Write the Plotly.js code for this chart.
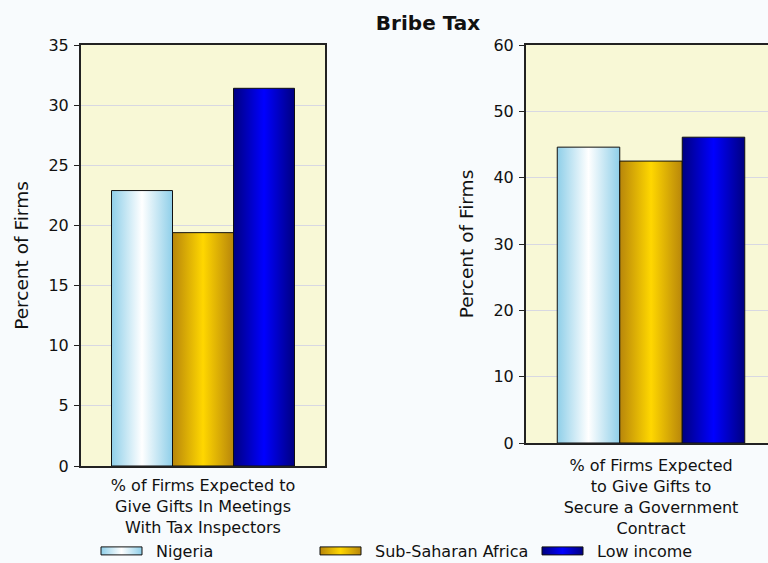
<!DOCTYPE html>
<html><head><meta charset="utf-8">
<script src="https://cdn.plot.ly/plotly-3.0.1.min.js"></script>
<style>html,body{margin:0;padding:0;overflow:hidden;background:#f8fbfd}</style>
</head><body><div id="chart"></div>
<script>
// ---- data ----
const seriesNames = ['Nigeria', 'Sub-Saharan Africa', 'Low income'];
const categoryLeft = ['% of Firms Expected to<br>Give Gifts In Meetings<br>With Tax Inspectors'];
const categoryRight = ['% of Firms Expected<br>to Give Gifts to<br>Secure a Government<br>Contract'];
const valuesLeft = [22.9, 19.4, 31.4];
const valuesRight = [44.6, 42.5, 46.1];
const yTicksLeft = [0, 5, 10, 15, 20, 25, 30, 35];
const yTicksRight = [0, 10, 20, 30, 40, 50, 60];
const chartTitle = 'Bribe Tax';
const yTitle = 'Percent of Firms';

// ---- styles ----
const W = 790, H = 563;
const solid = ['#bfe3f3', '#e6b800', '#0000c8'];
const grads = [
  ['#8fcfe9', '#ffffff', '#8fcfe9'],
  ['#b8860b', '#ffd700', '#b8860b'],
  ['#000080', '#0000ff', '#000080']
];
const legendNames = ['legend', 'legend2', 'legend3'];
const legendX = [96, 315, 537];
const font = 'DejaVu Sans, Verdana, sans-serif';

const traces = [];
seriesNames.forEach((name, i) => {
  traces.push({
    type: 'bar', name: name, x: categoryLeft, y: [valuesLeft[i]],
    xaxis: 'x', yaxis: 'y', legend: legendNames[i], showlegend: true,
    marker: {color: solid[i], line: {color: '#111', width: 1}},
    hoverinfo: 'y'
  });
});
seriesNames.forEach((name, i) => {
  traces.push({
    type: 'bar', name: name, x: categoryRight, y: [valuesRight[i]],
    xaxis: 'x2', yaxis: 'y2', legend: legendNames[i], showlegend: false,
    marker: {color: solid[i], line: {color: '#111', width: 1}},
    hoverinfo: 'y'
  });
});

const axisCommon = {
  showline: true, linecolor: '#222', linewidth: 2, mirror: true, automargin: false
};
const xCommon = Object.assign({}, axisCommon, {
  ticks: 'outside', tickcolor: 'rgba(0,0,0,0)', showgrid: false,
  tickfont: {family: font, size: 16, color: '#111'}
});
const yCommon = Object.assign({}, axisCommon, {
  ticks: 'outside', ticklen: 5, tickcolor: '#222', tickwidth: 1, ticklabelstandoff: 2,
  tickfont: {family: font, size: 16, color: '#111'},
  showgrid: true, gridcolor: '#d8d8e2', gridwidth: 1, zeroline: false,
  title: {text: yTitle, font: {family: font, size: 18.5, color: '#111'}, standoff: 15}
});

const legendBase = {
  orientation: 'h', xref: 'container', yref: 'container', xanchor: 'left', yanchor: 'middle',
  y: 1 - 551 / H, bgcolor: 'rgba(0,0,0,0)', borderwidth: 0,
  font: {family: font, size: 16, color: '#111'}, itemwidth: 50
};

const layout = {
  width: W, height: H,
  margin: {l: 0, r: 0, t: 0, b: 0, autoexpand: false},
  paper_bgcolor: '#f8fbfd', plot_bgcolor: '#f8f8d6',
  barmode: 'group', bargap: 0.25, bargroupgap: 0,
  title: {text: '<b>' + chartTitle + '</b>', font: {family: font, size: 20, color: '#111'},
          xref: 'container', yref: 'container', x: 428 / W, xanchor: 'center', y: 1 - 23 / H, yanchor: 'middle'},
  xaxis: Object.assign({}, xCommon, {domain: [81 / W, 325 / W], anchor: 'y', ticklen: 4}),
  yaxis: Object.assign({}, yCommon, {domain: [(H - 466) / H, (H - 45) / H], anchor: 'x', range: [0, 35], tickvals: yTicksLeft}),
  xaxis2: Object.assign({}, xCommon, {domain: [526 / W, 776 / W], anchor: 'y2', ticklen: 7}),
  yaxis2: Object.assign({}, yCommon, {domain: [(H - 443) / H, (H - 45) / H], anchor: 'x2', range: [0, 60], tickvals: yTicksRight}),
  showlegend: true
};
legendNames.forEach((ln, i) => {
  layout[ln] = Object.assign({}, legendBase, {x: legendX[i] / W});
});

function ensureDefs() {
  const ns = 'http://www.w3.org/2000/svg';
  if (document.getElementById('bargrad0')) return;
  const holder = document.createElementNS(ns, 'svg');
  holder.setAttribute('width', '0'); holder.setAttribute('height', '0');
  holder.style.position = 'absolute'; holder.style.left = '0'; holder.style.top = '0';
  const defs = document.createElementNS(ns, 'defs');
  holder.appendChild(defs);
  grads.forEach((g, i) => {
    const lg = document.createElementNS(ns, 'linearGradient');
    lg.setAttribute('id', 'bargrad' + i);
    lg.setAttribute('x1', '0'); lg.setAttribute('x2', '1'); lg.setAttribute('y1', '0'); lg.setAttribute('y2', '0');
    [[0, g[0]], [0.5, g[1]], [1, g[2]]].forEach(([o, c]) => {
      const s = document.createElementNS(ns, 'stop');
      s.setAttribute('offset', o); s.setAttribute('stop-color', c);
      lg.appendChild(s);
    });
    defs.appendChild(lg);
  });
  document.body.appendChild(holder);
}

function decorate(gd) {
  ensureDefs();
  gd.querySelectorAll('.barlayer g.trace').forEach(tr => {
    const d = tr.__data__;
    if (!d || !d[0]) return;
    const idx = seriesNames.indexOf(d[0].trace.name);
    if (idx < 0) return;
    tr.querySelectorAll('path').forEach(p => { p.style.fill = 'url(#bargrad' + idx + ')'; });
  });
  gd.querySelectorAll('.legendpoints').forEach(lp => {
    let node = lp, idx = -1;
    while (node && node !== gd) {
      if (node.classList && node.classList.contains('traces')) {
        const t = node.querySelector('text.legendtext');
        if (t) idx = seriesNames.indexOf(t.textContent.trim());
      }
      if (idx < 0 && node.classList) {
        for (let k = 0; k < legendNames.length; k++) {
          if (node.classList.contains(legendNames[k])) { idx = k; break; }
        }
      }
      if (idx >= 0) break;
      node = node.parentNode;
    }
    if (idx < 0) return;
    lp.querySelectorAll('path').forEach(p => {
      p.setAttribute('d', 'M-25,-4H16V4H-25Z');
      p.style.fill = 'url(#bargrad' + idx + ')';
      p.style.stroke = '#111'; p.style.strokeWidth = '1px';
    });
  });
}

const gd = document.getElementById('chart');
Plotly.newPlot(gd, traces, layout, {displayModeBar: false, staticPlot: true}).then(() => {
  decorate(gd);
  let n = 0;
  const iv = setInterval(() => { decorate(gd); if (++n > 40) clearInterval(iv); }, 25);
  gd.on && gd.on('plotly_afterplot', () => decorate(gd));
});
</script></body></html>
